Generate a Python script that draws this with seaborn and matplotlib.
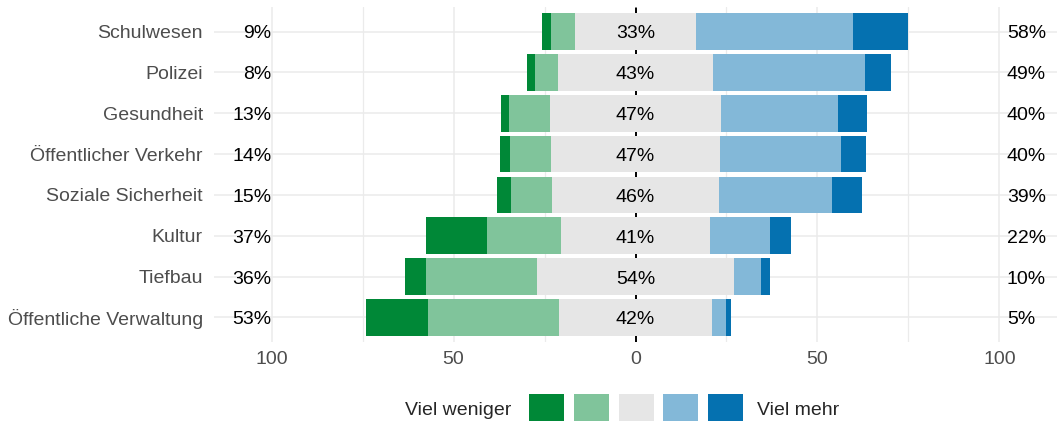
import matplotlib
matplotlib.use('Agg')
import matplotlib.pyplot as plt
import seaborn as sns
import pandas as pd
from matplotlib.patches import Patch

categories = ['Schulwesen', 'Polizei', 'Gesundheit', 'Öffentlicher Verkehr',
              'Soziale Sicherheit', 'Kultur', 'Tiefbau', 'Öffentliche Verwaltung']
viel_weniger = [2.4, 2.3, 2.2, 2.7, 3.8, 16.7, 5.7, 17.2]
weniger      = [6.6, 6.1, 11.1, 11.3, 11.3, 20.3, 30.6, 35.8]
gleich       = [33.2, 42.8, 47.2, 46.6, 45.8, 41.0, 53.9, 42.3]
mehr         = [43.2, 41.6, 32.1, 33.2, 31.2, 16.5, 7.4, 3.6]
viel_mehr    = [15.1, 7.3, 8.0, 6.8, 8.2, 5.7, 2.5, 1.6]
levels = ['Viel weniger', 'Weniger', 'Gleich', 'Mehr', 'Viel mehr']
colors = ['#008837', '#80c49b', '#e6e6e6', '#83b8d8', '#0571b0']
xticks = [-100, -50, 0, 50, 100]
xticklabels = ['100', '50', '0', '50', '100']
minor_ticks = [-75, -25, 25, 75]

sns.set_theme(style='white')
plt.rcParams['font.family'] = ['Liberation Sans', 'DejaVu Sans']

df = pd.DataFrame({'Bereich': categories, 'vw': viel_weniger, 'w': weniger,
                   'g': gleich, 'm': mehr, 'vm': viel_mehr})
half = df['g'] / 2
df['r3'] = half + df['m'] + df['vm']
df['r2'] = half + df['m']
df['r1'] = half
df['l3'] = -(half + df['w'] + df['vw'])
df['l2'] = -(half + df['w'])
df['l1'] = -half
df['links'] = df['vw'] + df['w']
df['rechts'] = df['m'] + df['vm']

W, H = 1057, 423
fig = plt.figure(figsize=(W / 100, H / 100), dpi=100)
ax = fig.add_axes([214 / W, 1 - 342 / H, 1 - 214 / W, (342 - 7) / H])

for col, c in [('r3', colors[4]), ('r2', colors[3]), ('r1', colors[2]),
               ('l3', colors[0]), ('l2', colors[1]), ('l1', colors[2])]:
    sns.barplot(data=df, x=col, y='Bereich', order=categories, color=c,
                saturation=1, width=0.9, orient='h', errorbar=None,
                linewidth=0, zorder=2, ax=ax)

ax.axvline(0, color='black', ls=(0, (4, 3)), lw=1.4, zorder=1.5)

off = 0.17  # half cap height in row units -> visually centred digits
for i, row in df.iterrows():
    ax.text(-100, i + off, f"{round(row['links'])}%", ha='right', va='baseline',
            fontsize=14, color='black', zorder=3)
    ax.text(0, i + off, f"{round(row['g'])}%", ha='center', va='baseline',
            fontsize=14, color='black', zorder=3)
    ax.text(102, i + off, f"{round(row['rechts'])}%", ha='left', va='baseline',
            fontsize=14, color='black', zorder=3)

ax.set_xlim(-115.8, 115.8)
ax.set_ylim(len(categories) - 1 + 0.6, -0.6)
ax.set_xticks(xticks)
ax.set_xticklabels(xticklabels)
ax.set_xticks(minor_ticks, minor=True)
ax.set_xlabel('')
ax.set_ylabel('')
for s in ax.spines.values():
    s.set_visible(False)
ax.set_axisbelow(True)
ax.grid(which='major', axis='both', color='#ebebeb', lw=1.1, zorder=0)
ax.grid(which='minor', axis='x', color='#ebebeb', lw=0.9, zorder=0)
ax.tick_params(axis='both', which='both', length=0, labelsize=14, labelcolor='#4d4d4d')
ax.tick_params(axis='y', pad=8)
ax.tick_params(axis='x', pad=6.5)

handles = [Patch(facecolor=c, edgecolor='none') for c in colors]
fig.legend(handles, [''] * 5, loc='center', bbox_to_anchor=(636 / W, 1 - 407.5 / H),
           ncol=5, frameon=False, fontsize=14, handlelength=1.8, handleheight=1.7,
           handletextpad=0, columnspacing=0.51, borderpad=0, borderaxespad=0)
fig.text(511 / W, 1 - 414.5 / H, 'Viel weniger', ha='right', va='baseline', fontsize=14)
fig.text(757 / W, 1 - 414.5 / H, 'Viel mehr', ha='left', va='baseline', fontsize=14)

fig.savefig('out.png', dpi=100)
